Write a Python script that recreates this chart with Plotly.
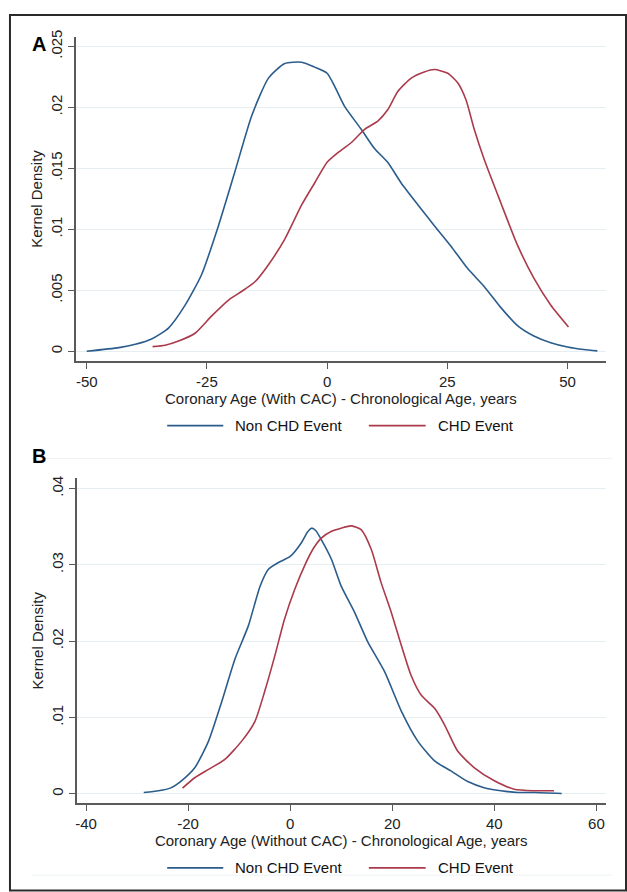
import plotly.graph_objects as go

W, H = 627, 892

# ---------------- Data ----------------
# Panel A: Coronary Age (With CAC) - Chronological Age
a_non_x = [-50, -43.3, -39.9, -36.4, -33.0, -29.5, -26.1, -22.6, -19.2, -15.7, -12.2, -8.8, -5.3,
           -2.6, 0, 1.6, 3.6, 7.1, 9.9, 12.6, 15.4, 18.9, 22.3, 25.8, 29.2, 32.7, 36.1, 39.6,
           43.0, 46.5, 50.0, 53.4, 56.2]
a_non_y = [0.0, 0.0003, 0.00057, 0.00103, 0.0019, 0.0038, 0.0063, 0.0103, 0.0147, 0.0193, 0.0224,
           0.0236, 0.0237, 0.0233, 0.0228, 0.0217, 0.0201, 0.0182, 0.0166, 0.0155, 0.0138, 0.0120,
           0.0103, 0.0086, 0.0068, 0.0053, 0.0036, 0.0021, 0.00125, 0.0007, 0.00035, 0.00014, 0.00003]

a_chd_x = [-36.3, -33.7, -30.9, -27.4, -24.0, -20.5, -17.8, -15.0, -12.2, -8.8, -5.3, -2.6, 0,
           2.3, 5.0, 7.8, 10.6, 12.6, 14.7, 17.5, 20.2, 22.3, 25.1, 27.2, 28.9, 30.6, 32.7, 36.1,
           39.6, 43.0, 46.5, 50.2]
a_chd_y = [0.00038, 0.0005, 0.00084, 0.0015, 0.0029, 0.0042, 0.0049, 0.0057, 0.0071, 0.0092, 0.0120,
           0.0138, 0.0155, 0.0163, 0.0171, 0.0182, 0.0189, 0.0198, 0.0213, 0.0224, 0.0229, 0.0231,
           0.0228, 0.0220, 0.0206, 0.0182, 0.0157, 0.0122, 0.0087, 0.0060, 0.0038, 0.0020]

# Panel B: Coronary Age (Without CAC) - Chronological Age
b_non_x = [-28.7, -25.8, -23.5, -21.3, -18.7, -16.0, -13.4, -10.8, -8.2, -5.9, -4.3, -2.3, 0, 2.2,
           3.4, 4.2, 5.0, 6.1, 8.1, 10.0, 12.6, 15.2, 18.5, 21.8, 25.0, 28.3, 31.5, 34.8, 38.0, 41.3,
           44.6, 47.8, 53.2]
b_non_y = [0.00017, 0.0004, 0.00074, 0.0017, 0.0034, 0.0069, 0.0121, 0.0177, 0.0220, 0.0272, 0.0294,
           0.0303, 0.0311, 0.0329, 0.0343, 0.0348, 0.0345, 0.0333, 0.0307, 0.0272, 0.0238, 0.0199,
           0.0160, 0.0108, 0.0069, 0.0043, 0.0030, 0.0016, 0.0008, 0.0004, 0.00017, 0.00017, 0.00004]

b_chd_x = [-21.1, -18.7, -16.0, -12.8, -9.5, -6.9, -5.0, -3.0, -1.1, 0.9, 2.9, 4.6, 6.1, 8.1, 10.0,
           12.0, 13.9, 15.9, 17.8, 19.8, 21.8, 23.7, 25.7, 28.3, 30.2, 32.8, 36.1, 40.0, 43.9, 47.8,
           51.7]
b_chd_y = [0.00074, 0.0021, 0.0032, 0.0045, 0.0069, 0.0095, 0.0134, 0.0181, 0.0229, 0.0268, 0.0300,
           0.0322, 0.0335, 0.0344, 0.0348, 0.0351, 0.0346, 0.0320, 0.0277, 0.0238, 0.0194, 0.0155,
           0.0129, 0.0112, 0.0091, 0.0056, 0.0034, 0.0017, 0.0006, 0.0004, 0.0004]

series_names = ["Non CHD Event", "CHD Event"]

a_xticks = [-50, -25, 0, 25, 50]
a_xtext = ["-50", "-25", "0", "25", "50"]
a_yticks = [0, 0.005, 0.01, 0.015, 0.02, 0.025]
a_ytext = ["0", ".005", ".01", ".015", ".02", ".025"]

b_xticks = [-40, -20, 0, 20, 40, 60]
b_xtext = ["-40", "-20", "0", "20", "40", "60"]
b_yticks = [0, 0.01, 0.02, 0.03, 0.04]
b_ytext = ["0", ".01", ".02", ".03", ".04"]

a_xtitle = "Coronary Age (With CAC) - Chronological Age, years"
b_xtitle = "Coronary Age (Without CAC) - Chronological Age, years"
ytitle = "Kernel Density"

# ---------------- Styles ----------------
BLUE = "#2b5d8c"
RED = "#ab3a4b"
AXIS = "#5a5a5a"
GRID = "#e6eef1"
FONT = "Liberation Sans, Arial, Helvetica, sans-serif"
FS = 15


def px_x(p):
    return p / W


def px_y(p):
    return 1 - p / H


fig = go.Figure()

line_kw = dict(width=1.6, shape="spline", smoothing=0.6)
fig.add_trace(go.Scatter(x=a_non_x, y=a_non_y, mode="lines", name=series_names[0],
                         line=dict(color=BLUE, **line_kw), xaxis="x", yaxis="y", showlegend=False))
fig.add_trace(go.Scatter(x=a_chd_x, y=a_chd_y, mode="lines", name=series_names[1],
                         line=dict(color=RED, **line_kw), xaxis="x", yaxis="y", showlegend=False))
fig.add_trace(go.Scatter(x=b_non_x, y=b_non_y, mode="lines", name=series_names[0],
                         line=dict(color=BLUE, **line_kw), xaxis="x2", yaxis="y2", showlegend=False))
fig.add_trace(go.Scatter(x=b_chd_x, y=b_chd_y, mode="lines", name=series_names[1],
                         line=dict(color=RED, **line_kw), xaxis="x2", yaxis="y2", showlegend=False))

common_x = dict(showline=True, linecolor=AXIS, linewidth=1.5, ticks="outside", ticklen=6,
                tickcolor=AXIS, tickwidth=1.3, showgrid=False, zeroline=False,
                tickfont=dict(size=FS, color="#222", family=FONT),
                title_font=dict(size=FS, color="#222", family=FONT))
common_y = dict(showline=True, linecolor=AXIS, linewidth=1.5, ticks="outside", ticklen=6,
                tickcolor=AXIS, tickwidth=1.3, showgrid=True, gridcolor=GRID, gridwidth=1.2,
                zeroline=False, tickangle=-90,
                tickfont=dict(size=FS, color="#222", family=FONT),
                title_font=dict(size=FS, color="#222", family=FONT))

fig.update_layout(
    width=W, height=H,
    margin=dict(l=0, r=0, t=0, b=0),
    paper_bgcolor="white", plot_bgcolor="white",
    font=dict(family=FONT, color="#222"),
    xaxis=dict(common_x, domain=[px_x(74), px_x(606)], range=[-52.28, 58.02],
               tickvals=a_xticks, ticktext=a_xtext, anchor="y",
               title=dict(text=a_xtitle, standoff=4)),
    yaxis=dict(common_y, domain=[px_y(357), px_y(30)], range=[-0.000813, 0.02579],
               tickvals=a_yticks, ticktext=a_ytext, anchor="x",
               title=dict(text=ytitle, standoff=2)),
    xaxis2=dict(common_x, domain=[px_x(75), px_x(605.7)], range=[-41.82, 61.84],
                tickvals=b_xticks, ticktext=b_xtext, anchor="y2",
                title=dict(text=b_xtitle, standoff=4)),
    yaxis2=dict(common_y, domain=[px_y(802.7), px_y(475)], range=[-0.00126, 0.04134],
                tickvals=b_yticks, ticktext=b_ytext, anchor="x2",
                title=dict(text=ytitle, standoff=2)),
)

shapes = []
# outer frame
shapes.append(dict(type="rect", xref="paper", yref="paper",
                   x0=px_x(8), x1=px_x(626), y0=px_y(890.5), y1=px_y(8),
                   line=dict(color="#2a2a2a", width=2)))
# faint region edges in panel B
for py in (455, 875):
    shapes.append(dict(type="line", xref="paper", yref="paper",
                       x0=px_x(30), x1=px_x(612), y0=px_y(py), y1=px_y(py),
                       line=dict(color="#eef3f5", width=1)))

annotations = []
# legends
for ly in (422, 867.7):
    for (x0, x1, tx, col, name) in ((165.7, 222, 232, BLUE, series_names[0]),
                                   (368, 425, 435, RED, series_names[1])):
        shapes.append(dict(type="line", xref="paper", yref="paper",
                           x0=px_x(x0), x1=px_x(x1), y0=px_y(ly), y1=px_y(ly),
                           line=dict(color=col, width=1.8)))
        annotations.append(dict(xref="paper", yref="paper", x=px_x(tx), y=px_y(ly),
                                text=name, showarrow=False, xanchor="left", yanchor="middle",
                                font=dict(size=FS, color="#111", family=FONT)))

# panel labels
annotations.append(dict(xref="paper", yref="paper", x=px_x(37), y=px_y(37), text="<b>A</b>",
                        showarrow=False, xanchor="center", yanchor="middle",
                        font=dict(size=20, color="#000", family=FONT)))
annotations.append(dict(xref="paper", yref="paper", x=px_x(37), y=px_y(453), text="<b>B</b>",
                        showarrow=False, xanchor="center", yanchor="middle",
                        font=dict(size=20, color="#000", family=FONT)))

fig.update_layout(shapes=shapes, annotations=annotations)

fig.write_html("out.html", config={"displayModeBar": False},
               post_script="document.body.style.margin='0px';")
